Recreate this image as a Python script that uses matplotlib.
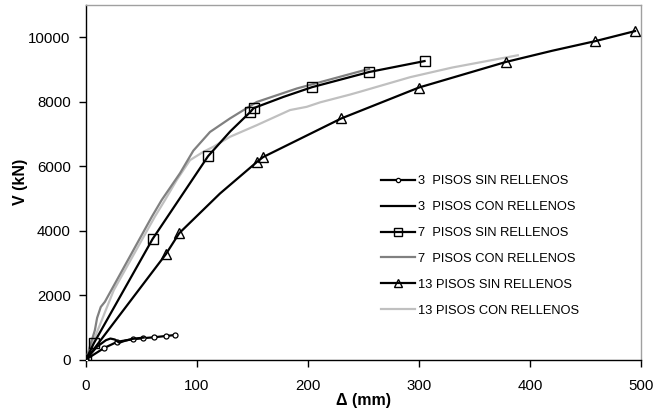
import matplotlib
matplotlib.use("Agg")
import matplotlib.pyplot as plt

plt.rcParams['font.family'] = ['Liberation Sans', 'DejaVu Sans']

# ---- data ----
x3s = [0, 16.2, 28.2, 42, 51, 61.5, 72, 80.2]
y3s = [0, 355, 550, 630, 660, 690, 730, 760]

x3c = [0, 10, 18, 22, 26, 30, 35, 42, 52]
y3c = [0, 400, 600, 650, 620, 520, 580, 640, 680]

x7s = [0, 7, 60, 110, 130, 148, 151, 178, 203.6, 255, 305]
y7s = [0, 500, 3740, 6310, 7080, 7680, 7800, 8150, 8450, 8920, 9260]
m7s = [0, 1, 2, 3, 5, 6, 8, 9, 10]

x7c = [0, 8, 10, 13.3, 17, 59.3, 68.2, 84.7, 96.7, 111.7, 129.7, 153.8, 190, 251, 255]
y7c = [0, 910, 1290, 1630, 1790, 4430, 4950, 5780, 6480, 7060, 7480, 7990, 8410, 8980, 9010]

x13s = [0, 72, 84, 120.7, 154, 159.5, 230, 300, 378, 420, 459, 494.6]
y13s = [0, 3270, 3920, 5150, 6130, 6280, 7480, 8440, 9230, 9580, 9880, 10190]
m13s = [0, 1, 2, 4, 5, 6, 7, 8, 10, 11]

x13c = [0, 7, 25, 62, 71.2, 81.7, 93.7, 105.7, 114.7, 129.7, 153.8, 183.8, 198.8,
        211, 237.8, 247, 292, 330, 389]
y13c = [0, 600, 2150, 4430, 4950, 5566, 6186, 6444, 6600, 6910, 7270, 7740, 7840,
        7980, 8220, 8310, 8760, 9060, 9440]

labels = ["3  PISOS SIN RELLENOS", "3  PISOS CON RELLENOS",
          "7  PISOS SIN RELLENOS", "7  PISOS CON RELLENOS",
          "13 PISOS SIN RELLENOS", "13 PISOS CON RELLENOS"]

xticks = [0, 100, 200, 300, 400, 500]
yticks = [0, 2000, 4000, 6000, 8000, 10000]

W, H = 668, 408
fig = plt.figure(figsize=(W / 100, H / 100), dpi=100)
ax = fig.add_axes([86 / W, 1 - 359.5 / H, 555 / W, 354.5 / H])

lw = 1.6
ax.plot(x3s, y3s, color='black', lw=lw, marker='o', ms=3.6, mfc='white',
        mec='black', mew=0.9, label=labels[0], zorder=4)
ax.plot(x3c, y3c, color='black', lw=lw, label=labels[1], zorder=4)
ax.plot(x7s, y7s, color='black', lw=lw, marker='s', ms=7, mfc='none',
        mec='black', mew=1.0, markevery=m7s, label=labels[2], zorder=4)
ax.plot(x7c, y7c, color='#808080', lw=lw, label=labels[3], zorder=3)
ax.plot(x13s, y13s, color='black', lw=lw, marker='^', ms=7, mfc='none',
        mec='black', mew=1.0, markevery=m13s, label=labels[4], zorder=4)
ax.plot(x13c, y13c, color='#c0c0c0', lw=lw, label=labels[5], zorder=2)

ax.set_xlim(0, 500)
ax.set_ylim(0, 11000)
ax.set_xticks(xticks)
ax.set_yticks(yticks)
ax.tick_params(axis='both', direction='out', length=5, width=1, labelsize=10.8,
               colors='black')
ax.tick_params(axis='x', pad=9)
ax.tick_params(axis='y', pad=6)

for s in ['left', 'bottom']:
    ax.spines[s].set_color('black')
    ax.spines[s].set_linewidth(1)
for s in ['top', 'right']:
    ax.spines[s].set_color('#a0a0a0')
    ax.spines[s].set_linewidth(1)

ax.set_xlabel('Δ (mm)', fontsize=11.5, fontweight='bold', labelpad=0)
ax.set_ylabel('V (kN)', fontsize=11.5, fontweight='bold', labelpad=0)

leg = ax.legend(loc='upper left', bbox_to_anchor=(381 / W, 1 - 175 / H),
                bbox_transform=fig.transFigure, frameon=False, fontsize=9.3,
                handlelength=2.6, handletextpad=0.3, labelspacing=1.08,
                borderpad=0, borderaxespad=0, markerscale=0.85)

fig.savefig('out.png', dpi=100)
